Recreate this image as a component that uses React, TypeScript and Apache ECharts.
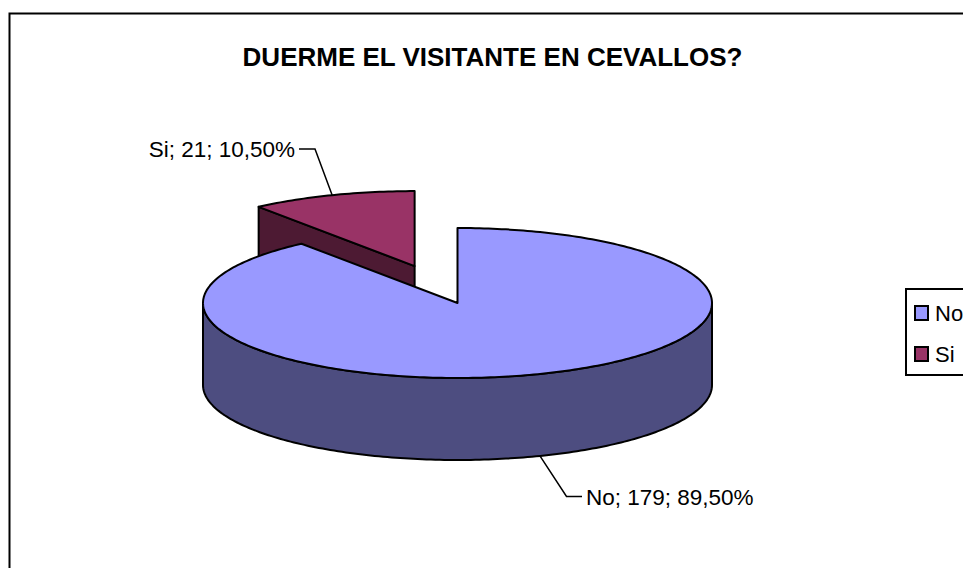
import React, { useEffect, useRef } from "react";
import * as echarts from "echarts";

const TITLE = "DUERME EL VISITANTE EN CEVALLOS?";
const categories = ["No", "Si"];
const values = [179, 21];
const percentLabels = ["89,50%", "10,50%"];
const topColors = ["#9999ff", "#993366"];
const wallColors = ["#4d4d80", "#4d1a33"];

const FONT = "'Liberation Sans', Arial, sans-serif";
const CX = 457.5;
const CY = 303;
const RX = 254.5;
const RY = 75;
const DEPTH = 82;
const EXPLODE = 0.52;
const LINE = { stroke: "#000", lineWidth: 2, lineJoin: "round" as const };
const TOTAL = values.reduce((a, b) => a + b, 0);

const rad = (d: number) => (d * Math.PI) / 180;
const pt = (deg: number, ox: number, oy: number) => [
  CX + ox + RX * Math.sin(rad(deg)),
  CY + oy - RY * Math.cos(rad(deg)),
];
const arc = (a: number, b: number, ox: number, oy: number) => {
  const out: number[][] = [];
  const n = Math.max(2, Math.ceil(Math.abs(b - a)));
  for (let i = 0; i <= n; i++) out.push(pt(a + ((b - a) * i) / n, ox, oy));
  return out;
};

function renderSlice(index: number, value: number) {
  const start = values.slice(0, index).reduce((a, b) => a + b, 0);
  const a0 = (start / TOTAL) * 360;
  const a1 = a0 + (value / TOTAL) * 360;
  const mid = (a0 + a1) / 2;
  const exploded = index === 1;
  const ox = exploded ? EXPLODE * RX * Math.sin(rad(mid)) : 0;
  const oy = exploded ? -EXPLODE * RY * Math.cos(rad(mid)) : 0;
  const apex = [CX + ox, CY + oy];
  const children: any[] = [];

  if (exploded) {
    const p = pt(a0, ox, oy);
    children.push({
      type: "polygon",
      shape: { points: [p, apex, [apex[0], apex[1] + DEPTH], [p[0], p[1] + DEPTH]] },
      style: { fill: wallColors[index], ...LINE },
    });
  } else {
    const front = arc(90, 270, ox, oy);
    children.push({
      type: "polygon",
      shape: { points: [...front, ...front.slice().reverse().map((q) => [q[0], q[1] + DEPTH])] },
      style: { fill: wallColors[index], ...LINE },
    });
  }
  children.push({
    type: "polygon",
    shape: { points: [apex, ...arc(a0, a1, ox, oy)] },
    style: { fill: topColors[index], ...LINE },
  });

  const edge = pt(mid, ox, oy);
  const text = `${categories[index]}; ${value}; ${percentLabels[index]}`;
  const fromY = exploded ? edge[1] : edge[1] + DEPTH;
  const elbow = exploded ? [315, 149] : [566.5, 496.5];
  const end = exploded ? [299, 149] : [582, 496.5];
  children.push({
    type: "polyline",
    shape: { points: [[edge[0], fromY], elbow, end] },
    style: { fill: "none", stroke: "#000", lineWidth: 1.5 },
  });
  children.push({
    type: "text",
    x: exploded ? 295 : 586,
    y: exploded ? 149 : 497,
    style: {
      text,
      fill: "#000",
      font: `22.5px ${FONT}`,
      textAlign: exploded ? "right" : "left",
      textVerticalAlign: "middle",
    },
  });
  return { type: "group", children };
}

export default function App() {
  const ref = useRef<HTMLDivElement>(null);
  useEffect(() => {
    const chart = echarts.init(ref.current!, undefined, { renderer: "svg" });
    chart.setOption({
      animation: false,
      backgroundColor: "#fff",
      title: {
        text: TITLE,
        left: 487.5,
        top: 39,
        textAlign: "center",
        textStyle: { fontFamily: FONT, fontWeight: "bold", fontSize: 26, color: "#000" },
      },
      graphic: [
        {
          type: "rect",
          z: -1,
          shape: { x: 9.5, y: 13.5, width: 1000, height: 600 },
          style: { fill: "none", stroke: "#000", lineWidth: 2 },
        },
      ],
      legend: {
        orient: "vertical",
        left: 906,
        top: 289,
        data: categories,
        icon: "rect",
        itemWidth: 13,
        itemHeight: 14,
        itemGap: 19,
        padding: [13, 30, 10, 8],
        borderColor: "#000",
        borderWidth: 2,
        backgroundColor: "#fff",
        selectedMode: false,
        itemStyle: { borderColor: "#000", borderWidth: 2 },
        textStyle: { fontFamily: FONT, fontSize: 22, color: "#000", padding: [0, 0, 0, 2] },
      },
      series: categories.map((name, i) => ({
        type: "custom",
        name,
        coordinateSystem: "none",
        silent: true,
        z: i === 1 ? 1 : 2,
        itemStyle: { color: topColors[i] },
        data: [values[i]],
        renderItem: (_p: any, api: any) => renderSlice(i, api.value(0)),
      })),
    });
    return () => chart.dispose();
  }, []);
  return (
    <div
      ref={ref}
      style={{ position: "fixed", left: 0, top: 0, width: 963, height: 568 }}
    />
  );
}
